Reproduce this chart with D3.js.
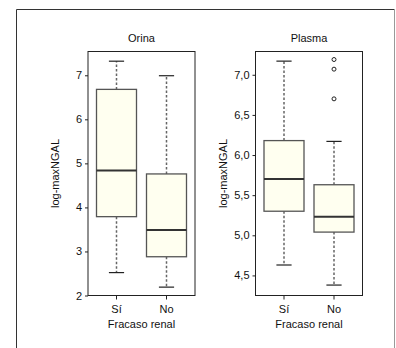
<!DOCTYPE html>
<html>
<head>
<meta charset="utf-8">
<script src="https://cdn.jsdelivr.net/npm/d3@7/dist/d3.min.js"></script>
<style>
  html, body { margin: 0; padding: 0; background: #fff; }
  svg { display: block; font-family: "Liberation Sans", Arial, sans-serif; }
</style>
</head>
<body>
<svg id="chart" width="396" height="348"></svg>
<script>
// Groups on the x axis
const categories = ["Sí", "No"];

// Five-number summaries per group: [lower whisker, Q1, median, Q3, upper whisker]
const orinaStats = [
  [2.52, 3.79, 4.84, 6.68, 7.32],
  [2.19, 2.88, 3.49, 4.76, 6.99]
];
const plasmaStats = [
  [4.63, 5.30, 5.70, 6.18, 7.17],
  [4.38, 5.04, 5.23, 5.63, 6.17]
];

// Points beyond the whiskers
const orinaOutliers = [[], []];
const plasmaOutliers = [[], [7.19, 7.07, 6.70]];

// Axis ticks
const orinaTicks = [2, 3, 4, 5, 6, 7];
const plasmaTicks = [4.5, 5.0, 5.5, 6.0, 6.5, 7.0];

const panels = [
  { title: "Orina", stats: orinaStats, outliers: orinaOutliers, ticks: orinaTicks,
    domain: [2, 7.54], fmt: d => String(d), left: 88, right: 195 },
  { title: "Plasma", stats: plasmaStats, outliers: plasmaOutliers, ticks: plasmaTicks,
    domain: [4.25, 7.29], fmt: d => d.toFixed(1).replace(".", ","), left: 255.5, right: 362.5 }
];

const svg = d3.select("#chart");
const plotTop = 51.5, plotBottom = 295.5;

// Outer frame (open at the bottom)
svg.append("path")
  .attr("d", "M16.5,348 L16.5,9.5 L394.5,9.5")
  .attr("fill", "none").attr("stroke", "#333").attr("stroke-width", 1);
svg.append("line")
  .attr("x1", 394.5).attr("x2", 394.5).attr("y1", 9.5).attr("y2", 348)
  .attr("stroke", "#999").attr("stroke-width", 1);

panels.forEach(p => {
  const g = svg.append("g");
  const y = d3.scaleLinear().domain(p.domain).range([plotBottom, plotTop]);
  const x = d3.scaleBand().domain(categories).range([p.left, p.right])
    .paddingInner(0.2).paddingOuter(0.17);
  const bw = x.bandwidth();
  const cx = c => x(c) + bw / 2;

  // Plot frame
  g.append("rect")
    .attr("x", p.left).attr("y", plotTop)
    .attr("width", p.right - p.left).attr("height", plotBottom - plotTop)
    .attr("fill", "none").attr("stroke", "#222").attr("stroke-width", 1);

  // Y axis
  const ya = g.append("g").attr("transform", `translate(${p.left},0)`)
    .call(d3.axisLeft(y).tickValues(p.ticks).tickFormat(p.fmt).tickSize(3).tickPadding(3));
  ya.select(".domain").remove();
  ya.selectAll("line").attr("stroke", "#222");
  ya.selectAll("text").attr("font-size", 11).attr("fill", "#111");

  // X axis
  const xa = g.append("g").attr("transform", `translate(0,${plotBottom})`)
    .call(d3.axisBottom(x).tickSize(4).tickPadding(6));
  xa.select(".domain").remove();
  xa.selectAll("line").attr("stroke", "#222");
  xa.selectAll("text").attr("font-size", 11).attr("fill", "#111");

  // Titles
  g.append("text").attr("x", (p.left + p.right) / 2).attr("y", 42)
    .attr("text-anchor", "middle").attr("font-size", 11).attr("fill", "#111").text(p.title);
  g.append("text").attr("x", (p.left + p.right) / 2).attr("y", 328)
    .attr("text-anchor", "middle").attr("font-size", 11).attr("fill", "#111").text("Fracaso renal");
  g.append("text")
    .attr("transform", `translate(${p.left - 29},${(plotTop + plotBottom) / 2}) rotate(-90)`)
    .attr("text-anchor", "middle").attr("font-size", 11).attr("fill", "#111").text("log-maxNGAL");

  categories.forEach((c, i) => {
    const [lo, q1, med, q3, hi] = p.stats[i];
    const xc = cx(c);
    const cap = bw * 0.19;

    // Whiskers
    g.append("line").attr("x1", xc).attr("x2", xc).attr("y1", y(q3)).attr("y2", y(hi))
      .attr("stroke", "#666").attr("stroke-width", 1.5).attr("stroke-dasharray", "2.5,2");
    g.append("line").attr("x1", xc).attr("x2", xc).attr("y1", y(q1)).attr("y2", y(lo))
      .attr("stroke", "#666").attr("stroke-width", 1.5).attr("stroke-dasharray", "2.5,2");
    [lo, hi].forEach(v => {
      g.append("line").attr("x1", xc - cap).attr("x2", xc + cap)
        .attr("y1", y(v)).attr("y2", y(v))
        .attr("stroke", "#222").attr("stroke-width", 1.2);
    });

    // Box
    g.append("rect").attr("x", x(c)).attr("y", y(q3))
      .attr("width", bw).attr("height", y(q1) - y(q3))
      .attr("fill", "#fffff0").attr("stroke", "#555").attr("stroke-width", 1.3);

    // Median
    g.append("line").attr("x1", x(c)).attr("x2", x(c) + bw)
      .attr("y1", y(med)).attr("y2", y(med))
      .attr("stroke", "#333").attr("stroke-width", 2);

    // Outliers
    p.outliers[i].forEach(v => {
      g.append("circle").attr("cx", xc).attr("cy", y(v)).attr("r", 2)
        .attr("fill", "none").attr("stroke", "#222").attr("stroke-width", 1);
    });
  });
});
</script>
</body>
</html>
